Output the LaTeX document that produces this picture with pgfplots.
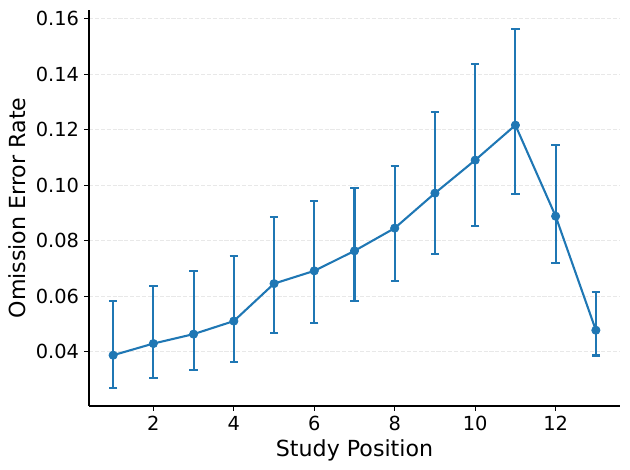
\documentclass[border=0pt]{standalone}
\usepackage{fontspec}
\setmainfont{DejaVu Sans}
\usepackage{pgfplots}
\pgfplotsset{compat=1.18}
\usepackage{pgfplotstable}
\definecolor{tabblue}{HTML}{1F77B4}

% study position, mean omission error rate, lower and upper error bar ends
\pgfplotstableread{
x  y      lo     hi
1  0.0388 0.0269 0.0583
2  0.0430 0.0305 0.0637
3  0.0464 0.0335 0.0691
4  0.0511 0.0363 0.0746
5  0.0646 0.0467 0.0885
6  0.0692 0.0503 0.0943
7  0.0764 0.0583 0.0990
8  0.0846 0.0655 0.1070
9  0.0972 0.0752 0.1264
10 0.1091 0.0853 0.1437
11 0.1217 0.0968 0.1565
12 0.0889 0.0720 0.1147
13 0.0478 0.0387 0.0615
}\omission

\begin{document}
\begin{tikzpicture}
\begin{axis}[
    name=ax,
    scale only axis,
    width=382.3bp, height=285.1bp,
    xmin=0.4, xmax=13.6,
    ymin=0.0205, ymax=0.1632,
    axis lines=left,
    axis line style={-, line width=0.8bp, black},
    tick align=outside,
    tick pos=left,
    major tick length=3.5bp,
    every tick/.style={black, line width=0.8bp},
    xtick={2,4,...,12},
    ytick={0.04,0.06,0.08,0.10,0.12,0.14,0.16},
    yticklabel style={
        /pgf/number format/fixed,
        /pgf/number format/fixed zerofill,
        /pgf/number format/precision=2,
        xshift=-3.5bp},
    /pgf/number format/assume math mode=true,
    tick label style={font=\fontsize{14}{16}\selectfont, inner sep=0pt},
    xticklabel style={yshift=-3.5bp},
    ymajorgrids=true,
    major grid style={black!9, line width=0.8bp, dash pattern=on 2.96bp off 1.28bp},
    xlabel={Study Position},
    ylabel={Omission Error Rate},
    label style={font=\fontsize{16}{19}\selectfont},
    xlabel style={at={(axis description cs:0.5,-0.1263)}, anchor=base},
    ylabel style={at={(axis description cs:-0.136,0.5)}, anchor=center},
]
\addplot[
    tabblue, line width=1.5bp,
    only marks, mark=none, forget plot,
    error bars/.cd,
    y dir=both, y explicit,
    error mark=|,
    error mark options={tabblue, mark size=3bp, line width=1.5bp},
    error bar style={tabblue, line width=1.5bp},
] table[x=x, y=y,
        y error plus expr=\thisrow{hi}-\thisrow{y},
        y error minus expr=\thisrow{y}-\thisrow{lo}] {\omission};
\addplot[
    tabblue, line width=1.5bp,
    mark=*, mark size=3bp,
    mark options={fill=tabblue, draw=tabblue, line width=0.5bp},
] table[x=x, y=y] {\omission};
\end{axis}
\pgfresetboundingbox
\path ([xshift=-64.08bp, yshift=-46.08bp]ax.south west)
    rectangle ([xshift=7.2bp, yshift=7.2bp]ax.north east);
\end{tikzpicture}
\end{document}
